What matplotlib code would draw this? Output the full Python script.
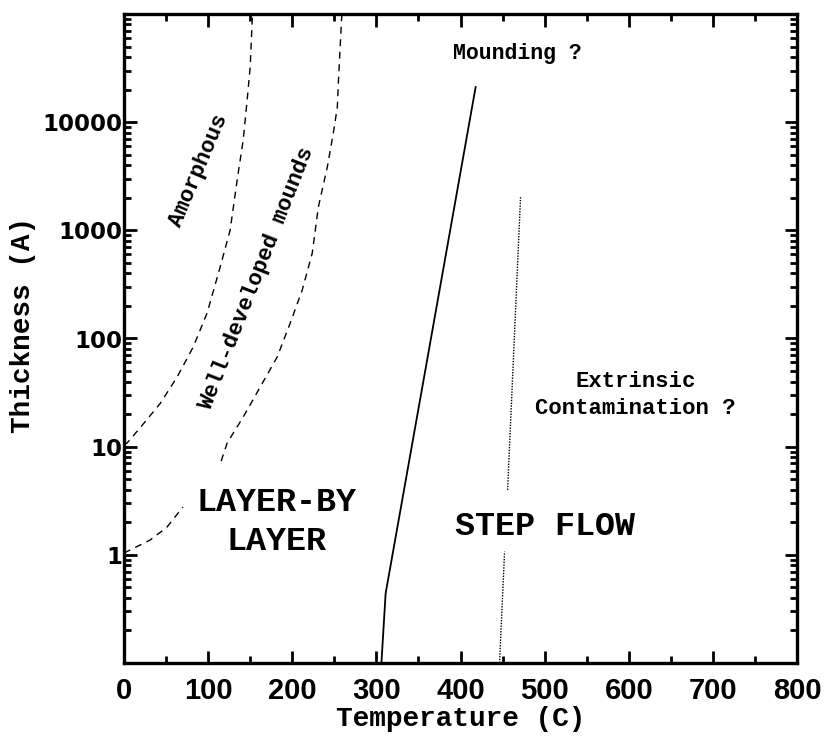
import numpy as np
import matplotlib
matplotlib.use("Agg")
import matplotlib.pyplot as plt
from matplotlib.ticker import LogLocator, NullFormatter, FixedLocator, FixedFormatter

# ---- data ----
amorph_T = [0, 3.6, 19, 42.9, 63.1, 82.1, 98.8, 114.3, 126.2, 134.5, 141.7, 146.4, 150, 152.4, 153]
amorph_d = [10.5, 10.8, 14.9, 25, 44, 83, 172, 458, 1007, 2920, 6840, 16000, 32400, 88000, 100000]

mounds_low_T = [0, 31, 51, 70]
mounds_low_d = [1.04, 1.37, 1.8, 2.77]
mounds_T = [115.5, 122.6, 141.7, 161.9, 182.1, 197.6, 211.9, 223.8, 231, 241.7, 248.8, 253.6, 254.8, 258.3, 259]
mounds_d = [7.36, 10.8, 18.8, 35.6, 67.5, 139, 281, 617, 1640, 3850, 7940, 13800, 23000, 80700, 100000]

step_T = [306, 311, 418]
step_d = [0.1, 0.44, 21100]

contam_up_T = [456, 471.4]
contam_up_d = [3.98, 2030]
contam_low_T = [446.4, 452.4]
contam_low_d = [0.1, 1.07]

x_ticks = [0, 100, 200, 300, 400, 500, 600, 700, 800]
x_labels = ["0", "100", "200", "300", "400", "500", "600", "700", "800"]
y_ticks = [1, 10, 100, 1000, 10000]
y_labels = ["1", "10", "100", "1000", "10000"]

MONO = "Liberation Mono"

fig = plt.figure(figsize=(8.30, 7.48), dpi=100)
ax = fig.add_axes([124/830, 1-663/748, (797-124)/830, (663-14)/748])

ax.plot(amorph_T, amorph_d, color="black", lw=1.0, ls=(0, (5, 4)))
ax.plot(mounds_low_T, mounds_low_d, color="black", lw=1.0, ls=(0, (5, 4)))
ax.plot(mounds_T, mounds_d, color="black", lw=1.0, ls=(0, (5, 4)))
ax.plot(step_T, step_d, color="black", lw=1.3, ls="-")
ax.plot(contam_up_T, contam_up_d, color="black", lw=1.0, ls=(0, (1, 1)))
ax.plot(contam_low_T, contam_low_d, color="black", lw=1.0, ls=(0, (1, 1)))

ax.set_xlim(0, 800)
ax.set_yscale("log")
ax.set_ylim(0.1, 1e5)

ax.xaxis.set_major_locator(FixedLocator(x_ticks))
ax.xaxis.set_major_formatter(FixedFormatter(x_labels))
ax.xaxis.set_minor_locator(FixedLocator(np.arange(50, 800, 100)))
ax.yaxis.set_major_locator(FixedLocator(y_ticks))
ax.yaxis.set_major_formatter(FixedFormatter(y_labels))
ax.yaxis.set_minor_locator(LogLocator(base=10, subs=np.arange(2, 10), numticks=20))
ax.yaxis.set_minor_formatter(NullFormatter())

ax.tick_params(which="both", direction="in", top=True, right=True, width=2.0, color="black")
ax.tick_params(which="major", length=9)
ax.tick_params(which="minor", length=5)
ax.tick_params(axis="x", which="major", pad=10)
ax.tick_params(axis="y", which="major", pad=1)
for s in ax.spines.values():
    s.set_linewidth(2.4)

for lab in ax.get_xticklabels():
    lab.set_fontfamily("Liberation Sans")
    lab.set_fontweight("bold")
    lab.set_fontsize(21)
for lab in ax.get_yticklabels():
    lab.set_fontfamily("DejaVu Sans")
    lab.set_fontweight("bold")
    lab.set_fontsize(16.5)

ax.set_xlabel("Temperature (C)", fontfamily=MONO, fontweight="bold", fontsize=20)
ax.xaxis.set_label_coords(0.5, (663-706)/649)
ax.set_ylabel("Thickness (A)", fontfamily=MONO, fontweight="bold", fontsize=20)
ax.yaxis.set_label_coords((36-124)/673, (663-325)/649)

ax.text(468, 43500, "Mounding ?", fontfamily=MONO, fontweight="bold", fontsize=15.5,
        ha="center", va="center")
ax.text(608, 30, "Extrinsic\nContamination ?", fontfamily=MONO, fontweight="bold", fontsize=16,
        ha="center", va="center", multialignment="center", linespacing=1.4)
ax.text(181, 2.0, "LAYER-BY\nLAYER", fontfamily=MONO, fontweight="bold", fontsize=24,
        ha="center", va="center", multialignment="center", linespacing=1.35)
ax.text(501, 1.81, "STEP FLOW", fontfamily=MONO, fontweight="bold", fontsize=24,
        ha="center", va="center")
ax.text(89.3, 3610, "Amorphous", fontfamily=MONO, fontweight="bold", fontsize=16,
        ha="center", va="center", rotation=67, rotation_mode="anchor")
ax.text(158.3, 362, "Well-developed mounds", fontfamily=MONO, fontweight="bold", fontsize=16,
        ha="center", va="center", rotation=68.5, rotation_mode="anchor")

fig.savefig("out.png", dpi=100)
